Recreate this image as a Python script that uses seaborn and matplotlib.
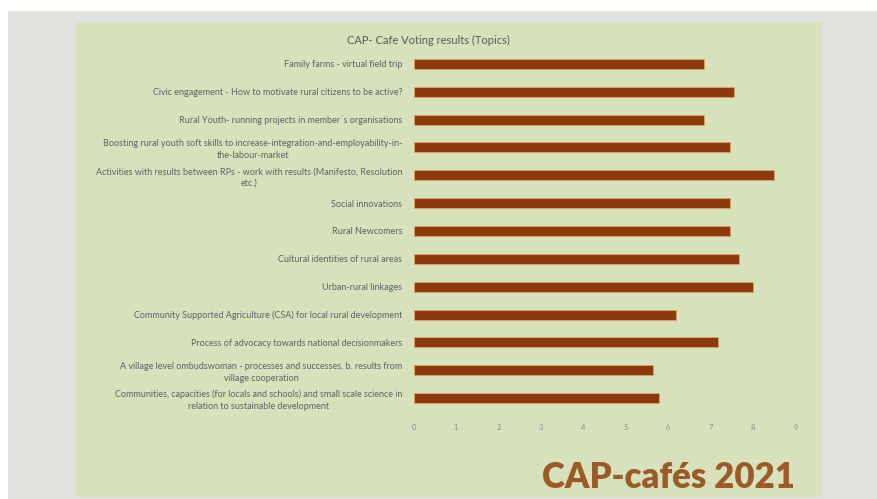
import matplotlib
matplotlib.use("Agg")
import matplotlib.pyplot as plt
import seaborn as sns
import pandas as pd
from matplotlib.patches import Rectangle

topics = [
    "Family farms - virtual field trip",
    "Civic engagement - How to motivate rural citizens to be active?",
    "Rural Youth- running projects in member\u00b4s organisations",
    "Boosting rural youth soft skills to increase-integration-and-employability-in-\nthe-labour-market",
    "Activities with results between RPs - work with results (Manifesto, Resolution\netc.)",
    "Social innovations",
    "Rural Newcomers",
    "Cultural identities of rural areas",
    "Urban-rural linkages",
    "Community Supported Agriculture (CSA) for local rural development",
    "Process of advocacy towards national decisionmakers",
    "A village level ombudswoman - processes and successes. b. results from\nvillage cooperation",
    "Communities, capacities (for locals and schools) and small scale science in\nrelation to sustainable development",
]
scores = [6.83, 7.55, 6.83, 7.45, 8.5, 7.45, 7.45, 7.67, 8.0, 6.18, 7.17, 5.65, 5.77]
xticks = list(range(10))

df = pd.DataFrame({"topic": topics, "score": scores})

sns.set_style("white")
plt.rcParams["font.family"] = ["Lato", "DejaVu Sans"]

W, H = 877, 499
fig = plt.figure(figsize=(W / 100, H / 100), dpi=100, facecolor="white")

# slide background: grey frame and green panel (behind the axes)
fig.patches.append(Rectangle((8 / W, 0), 1 - 8 / W, 1 - 11 / H, transform=fig.transFigure,
                             facecolor="#e1e2dd", edgecolor="none", zorder=-2))
fig.patches.append(Rectangle((76 / W, 2 / H), (822 - 76) / W, (497 - 22) / H, transform=fig.transFigure,
                             facecolor="#d7e2bd", edgecolor="none", zorder=-1))

ax = fig.add_axes([413.5 / W, 1 - 412 / H, (795.7 - 413.5) / W, (412 - 50) / H])
ax.set_facecolor("none")

sns.barplot(data=df, x="score", y="topic", orient="h", color="#8a3a0c", width=0.36,
            edgecolor="#d9a66b", linewidth=0.6, saturation=1, ax=ax)

ax.set_xlim(0, 9)
ax.set_xticks(xticks)
ax.set_xlabel("")
ax.set_ylabel("")
for s in ax.spines.values():
    s.set_visible(False)
ax.tick_params(axis="both", length=0)
ax.tick_params(axis="x", labelsize=5.5, labelcolor="#8c8c8c", pad=9)
ax.tick_params(axis="y", labelsize=6.5, labelcolor="#616161", pad=8)
for lab in ax.get_yticklabels():
    lab.set_multialignment("center")
    lab.set_linespacing(1.35)

fig.text(428 / W, 1 - 40 / H, "CAP- Cafe Voting results (Topics)", ha="center", va="center",
         fontsize=8, color="#595959")
fig.text(795 / W, 1 - 478 / H, "CAP-caf\u00e9s 2021", ha="right", va="center",
         fontsize=25, fontweight="heavy", color="#9a5a2a")

fig.savefig("out.png", dpi=100, facecolor=fig.get_facecolor())
